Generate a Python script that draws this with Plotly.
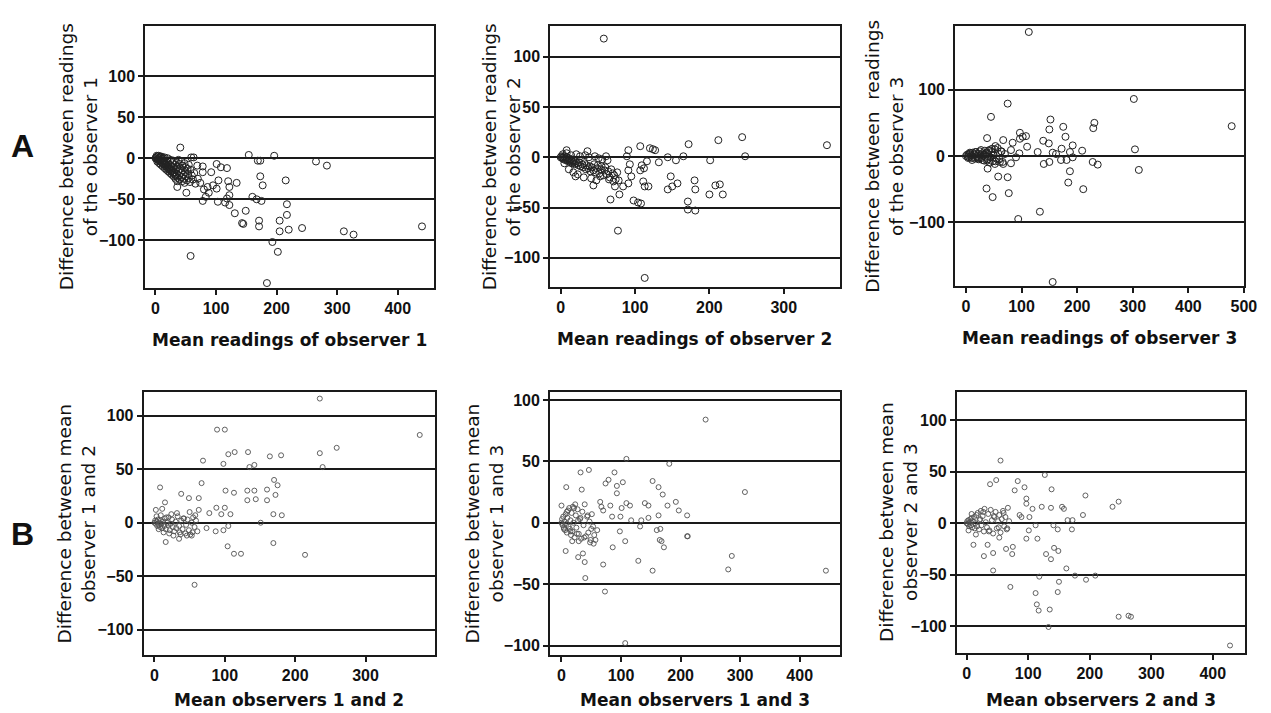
import plotly.graph_objects as go

# ---------------- Row A: each observer, repeated readings ----------------
a1_mean = [41, 59, 63, 154, 169, 173, 196, 265, 283, 101, 108, 118, 69, 78, 92, 78, 104, 120, 134, 122,
           101, 86, 51, 36, 173, 177, 215, 78, 103, 115, 122, 122, 118, 83, 160, 167, 175, 217, 131, 149,
           143, 145, 171, 171, 205, 217, 205, 220, 242, 311, 327, 440, 193, 202, 58, 184,
           0, 1, 2, 3, 4, 5, 6, 7, 8, 9, 10, 11, 12, 13, 14, 15, 16, 17, 18, 19, 20, 21, 22, 23, 24, 25,
           26, 27, 28, 29, 30, 31, 32, 33, 34, 35, 36, 37, 38, 39, 40, 41, 42, 43, 44, 45, 46, 47, 48, 49,
           50, 52, 54, 55, 57, 58, 60, 62, 64, 66, 3, 6, 9, 12, 15, 18, 21, 24, 27, 30, 33, 36, 5, 10, 15,
           20, 25, 30, 35, 40, 45, 50, 55, 2, 8, 13, 28, 32, 38, 43, 48, 53, 70, 74, 80, 88, 95]
a1_diff = [13, 1, 1, 4, -3, -3, 3, -4, -9, -7, -11, -12, -9, -10, -17, -17, -27, -28, -30, -35,
           -37, -35, -42, -35, -22, -33, -27, -52, -53, -54, -57, -45, -49, -47, -47, -50, -52, -56, -67, -64,
           -79, -80, -76, -83, -76, -69, -89, -87, -85, -89, -93, -83, -102, -114, -119, -152,
           0, 1, -1, 2, -2, 0, -3, 1, -4, -2, -5, -1, -6, -3, -8, -4, -7, -10, -5, -9, -12, -6, -11, -14, -8, -13,
           -16, -10, -15, -18, -12, -17, -20, -14, -22, -19, -11, -24, -16, -21, -26, -13, -18, -23, -28, -15, -20, -25, -30, -17,
           -22, -27, -19, -24, -29, -14, -21, -26, -18, -31, -4, -6, -8, -10, -12, -14, -16, -18, -20, -22, -25, -28, 3, 2, 1,
           0, -2, -3, -5, -7, -9, -11, -8, 3, 2, 0, -6, -8, -2, -4, -6, -13, -25, -30, -38, -42, -33]

a2_mean = [58, 358, 244, 248, 212, 201, 172, 165, 144, 155, 132, 107, 120, 124, 127, 91, 89, 61, 93, 109,
           112, 116, 107, 91, 95, 91, 84, 73, 71, 78, 79, 67, 111, 113, 118, 148, 144, 150, 157, 180,
           181, 171, 171, 181, 208, 214, 200, 218, 98, 104, 108, 77, 113, 44, 20, 8, 36,
           0, 1, 2, 3, 4, 5, 6, 7, 8, 9, 10, 11, 12, 13, 14, 15, 16, 17, 18, 19, 20, 22, 24, 25, 27, 29,
           30, 32, 34, 35, 37, 39, 40, 42, 44, 45, 47, 49, 50, 52, 54, 55, 57, 59, 60, 62, 64, 66, 68, 70,
           72, 74, 76, 3, 8, 14, 21, 26, 33, 38, 46, 51, 56, 63, 5, 11, 17, 23, 31, 41, 48, 53, 65]
a2_diff = [118, 12, 20, 1, 17, -3, 13, 1, 0, -3, -5, 11, 9, 8, 7, 7, 1, 1, -7, -8,
           -11, -4, -13, -13, -19, -26, -29, -29, -24, -23, -37, -42, -24, -29, -29, -19, -32, -29, -26, -23,
           -32, -44, -52, -53, -28, -27, -37, -37, -43, -45, -46, -73, -120, -28, -19, 7, 6,
           0, 1, -1, 0, -2, 1, -1, -3, 0, -2, -4, -1, -3, -5, -2, -4, -6, -3, -5, -7, -4, -6, -8, -5, -9, -7,
           -10, -6, -12, -8, -11, -9, -14, -10, -13, -7, -15, -11, -8, -16, -12, -9, -18, -13, -10, -17, -14, -20, -12, -16,
           -18, -22, -15, 3, 4, 2, 3, 1, 2, 0, 1, -1, -2, -3, -6, -12, -15, -17, -20, -21, -23, -19, -22]

a3_mean = [113, 302, 478, 75, 45, 152, 150, 175, 231, 229, 179, 97, 102, 108, 97, 38, 67, 139, 149, 192,
           172, 110, 84, 304, 209, 129, 156, 162, 187, 192, 171, 181, 140, 150, 228, 237, 311, 187, 184, 211,
           39, 58, 75, 37, 48, 77, 133, 94, 156, 53, 81, 81, 67, 52, 90, 96,
           0, 2, 3, 5, 6, 8, 9, 10, 12, 13, 15, 16, 18, 19, 20, 22, 23, 25, 26, 28, 29, 30, 32, 34, 35,
           37, 38, 40, 42, 44, 46, 48, 50, 52, 55, 58, 61, 64, 4, 7, 11, 14, 17, 21, 24, 27, 31, 33, 36,
           39, 41, 43, 47, 49, 53, 57, 60, 63, 66, 70]
a3_diff = [187, 86, 45, 79, 59, 55, 40, 44, 50, 42, 29, 35, 29, 30, 26, 27, 24, 23, 19, 16,
           11, 14, 20, 10, 8, 6, 5, 3, 6, -2, -6, -6, -12, -9, -9, -13, -21, -23, -40, -50,
           -19, -31, -32, -49, -62, -56, -84, -95, -190, 15, 9, -11, -12, -12, -2, 4,
           0, 2, -1, 3, -2, 4, 1, -3, 5, -1, 2, -4, 6, 0, -2, 3, -5, 7, 1, -3, 4, -6, 2, 8, -1,
           5, -7, 3, 9, -2, 6, -8, 1, 10, -4, 4, -9, 7, -3, 5, -6, 3, 6, -4, -3, 9, 1, -7, 4, -5, 8,
           -10, 11, 2, -8, 12, -5, 7, -9, 3, 6]

# ---------------- Row B: pairs of observers ----------------
b1_mean = [235, 377, 89, 100, 259, 235, 239, 180, 164, 133, 114, 105, 69, 98, 135, 142, 67, 8, 170, 175,
           101, 113, 132, 142, 160, 172, 38, 49, 63, 15, 11, 2, 132, 144, 160, 88, 100, 63, 169, 181,
           95, 108, 78, 151, 105, 98, 87, 74, 16, 35, 53, 104, 169, 113, 123, 214, 57,
           0, 1, 2, 3, 4, 5, 6, 7, 8, 9, 10, 11, 12, 14, 15, 16, 18, 19, 20, 22, 23, 25, 26, 28,
           30, 31, 33, 35, 36, 38, 40, 42, 44, 45, 47, 49, 51, 53, 55, 57, 59, 61, 3, 6, 9, 13, 17,
           21, 24, 27, 32, 37, 41, 46, 50, 54, 58]
b1_diff = [116, 82, 87, 87, 70, 65, 52, 63, 62, 66, 66, 64, 58, 55, 52, 54, 37, 33, 40, 35,
           30, 28, 30, 30, 31, 26, 27, 23, 23, 19, 13, 12, 21, 22, 21, 14, 14, 12, 8, 7,
           8, 8, 9, 0, -3, -7, -8, -5, -18, -15, -12, -22, -19, -29, -29, -30, -58,
           0, 2, -1, 1, -3, 3, -2, 0, -4, 2, -1, -5, 1, -3, 4, -6, 0, -2, 5, -7, -1, 3, -4, -8,
           1, -5, 6, -3, -9, 2, -6, 4, -10, -2, 3, -7, -11, 0, 5, -4, 2, -8, 6, -6, 7, -9, 5,
           -10, 8, -12, 9, -11, 4, -12, 10, -9, 7]

b2_mean = [242, 109, 181, 308, 32, 46, 89, 74, 79, 103, 93, 153, 163, 8, 34, 93, 170, 65, 67, 70,
           82, 101, 109, 115, 140, 146, 178, 192, 197, 163, 211, 85, 99, 117, 134, 146, 132, 160, 166, 165,
           168, 172, 211, 212, 98, 107, 86, 29, 48, 54, 57, 7, 28, 36, 39, 70, 129, 153, 286, 280,
           444, 40, 73, 107, 0, 60,
           0, 1, 2, 3, 4, 5, 6, 7, 8, 9, 10, 11, 12, 13, 14, 15, 16, 17, 18, 19, 20, 22, 24, 25,
           27, 29, 31, 33, 35, 37, 39, 41, 43, 45, 47, 49, 51, 53, 55, 4, 9, 15, 21, 26, 32, 38,
           44, 50, 18, 23, 28]
b2_diff = [84, 52, 48, 25, 41, 43, 41, 32, 35, 33, 30, 34, 29, 29, 27, 24, 23, 17, 13, 10,
           14, 12, 16, 14, 16, 14, 14, 17, 10, 6, 6, 5, 5, 2, 2, 4, -3, -6, -5, -14,
           -15, -20, -11, -11, -7, -15, -20, -15, -16, -17, -14, -23, -28, -25, -32, -34, -31, -39, -27, -38,
           -39, -45, -56, -98, 14, -6,
           0, 3, -2, 5, -4, 1, -6, 7, -1, -8, 4, 10, -3, 12, -5, 2, -10, 8, -7, 13, 0, -12, 6, -4,
           11, -9, 3, -13, 9, -2, 15, -11, 5, -8, 1, -14, 7, -3, -10, -5, 9, -7, 12, -9, 4, -12,
           6, -5, -15, 15, 2]

b3_mean = [55, 127, 38, 48, 83, 78, 94, 138, 193, 97, 97, 107, 122, 137, 155, 158, 237, 247, 189, 86,
           89, 102, 164, 172, 112, 141, 148, 171, 101, 97, 115, 53, 11, 34, 28, 43, 64, 75, 74, 129,
           137, 142, 149, 43, 118, 162, 176, 194, 209, 150, 148, 71, 112, 114, 117, 135, 133, 247, 263, 267,
           428,
           0, 1, 2, 3, 4, 5, 6, 7, 8, 9, 10, 12, 13, 14, 16, 17, 18, 20, 21, 23, 24, 26, 28, 29,
           31, 33, 35, 37, 39, 41, 43, 45, 47, 49, 51, 53, 55, 57, 59, 61, 63, 65, 67, 69, 3, 8,
           15, 22, 27, 36, 44, 52, 60, 66]
b3_diff = [61, 47, 38, 42, 41, 32, 35, 33, 27, 24, 19, 14, 16, 15, 16, 14, 16, 21, 8, 8,
           6, 6, 3, 3, -2, -2, -6, -6, -7, -15, -15, -14, -21, -21, -32, -29, -25, -23, -30, -30,
           -35, -24, -27, -46, -52, -44, -51, -55, -51, -57, -67, -62, -68, -79, -85, -84, -101, -91, -90, -91,
           -119,
           0, 2, -1, 3, -3, 1, 4, -2, 5, -4, 2, 6, -5, 0, 8, -3, 10, -6, 3, 12, -2, 7, -8, 14,
           1, -4, 9, -7, 13, 3, -10, 6, 11, -5, 2, 8, -9, 4, 12, -3, 6, -6, 15, 2, -7, 9,
           -11, 4, 11, -8, 7, -4, 10, -5]

panels = [
    dict(x=a1_mean, y=a1_diff, dom_x=(0.1154, 0.3446), dom_y=(0.5961, 0.9635),
         xr=(-17, 459), yr=(-158, 161), xt=[0, 100, 200, 300, 400], yt=[-100, -50, 0, 50, 100],
         xtitle="Mean readings of observer 1", ytitle="Difference between readings<br>of the observer 1",
         ytx=79, big=True, xtoff=52),
    dict(x=a2_mean, y=a2_diff, dom_x=(0.4374, 0.6674), dom_y=(0.5975, 0.9635),
         xr=(-14, 375), yr=(-129, 130.5), xt=[0, 100, 200, 300], yt=[-100, -50, 0, 50, 100],
         xtitle="Mean readings of observer 2", ytitle="Difference between readings<br>of the observer 2",
         ytx=507, big=True, xtoff=52),
    dict(x=a3_mean, y=a3_diff, dom_x=(0.7592, 0.9888), dom_y=(0.5989, 0.9635),
         xr=(-19.6, 500), yr=(-196, 196), xt=[0, 100, 200, 300, 400, 500], yt=[-100, 0, 100],
         xtitle="Mean readings of observer 3", ytitle="Difference between  readings<br>of the observer 3",
         ytx=893, big=True, xtoff=52),
    dict(x=b1_mean, y=b1_diff, dom_x=(0.1141, 0.3454), dom_y=(0.0813, 0.4506),
         xr=(-15.5, 398), yr=(-123.6, 122.4), xt=[0, 100, 200, 300], yt=[-100, -50, 0, 50, 100],
         xtitle="Mean observers 1 and 2", ytitle="Difference between mean<br>observer 1 and 2",
         ytx=77, big=False, xtoff=45),
    dict(x=b2_mean, y=b2_diff, dom_x=(0.4372, 0.6674), dom_y=(0.0813, 0.4506),
         xr=(-19.3, 467), yr=(-107.7, 106.7), xt=[0, 100, 200, 300, 400], yt=[-100, -50, 0, 50, 100],
         xtitle="Mean observers 1 and 3", ytitle="Difference between mean<br>observer 1 and 3",
         ytx=489, big=False, xtoff=45),
    dict(x=b3_mean, y=b3_diff, dom_x=(0.7606, 0.9895), dom_y=(0.0846, 0.4506),
         xr=(-16, 452), yr=(-126, 128), xt=[0, 100, 200, 300, 400], yt=[-100, -50, 0, 50, 100],
         xtitle="Mean observers 2 and 3", ytitle="Difference between mean<br>observer 2 and 3",
         ytx=907, big=False, xtoff=47),
]

W, H = 1271, 713
TICK_FONT = "Liberation Sans, Arial, sans-serif"
TITLE_FONT = "DejaVu Sans, sans-serif"


def bold_labels(vals):
    return ["<b>%s</b>" % (str(v).replace("-", "\u2212")) for v in vals]


fig = go.Figure()
annotations = []
for i, p in enumerate(panels, start=1):
    xa = "x" if i == 1 else f"x{i}"
    ya = "y" if i == 1 else f"y{i}"
    fig.add_trace(go.Scatter(
        x=p["x"], y=p["y"], mode="markers", xaxis=xa, yaxis=ya, showlegend=False,
        marker=dict(symbol="circle-open", size=7 if p["big"] else 5,
                    color="#222" if p["big"] else "#505050",
                    line=dict(width=1 if p["big"] else 0.9)),
    ))
    axis_common = dict(showline=True, mirror=True, linecolor="#1a1a1a", linewidth=1.8,
                       ticks="outside", ticklen=5, tickwidth=1.5, tickcolor="#1a1a1a",
                       tickfont=dict(family=TICK_FONT, size=16, color="#111", weight="bold"),
                       zeroline=False)
    fig.layout[f"xaxis{'' if i == 1 else i}"] = dict(
        domain=list(p["dom_x"]), range=list(p["xr"]), tickvals=p["xt"],
        ticktext=bold_labels(p["xt"]), showgrid=False, anchor=ya, **axis_common)
    fig.layout[f"yaxis{'' if i == 1 else i}"] = dict(
        domain=list(p["dom_y"]), range=list(p["yr"]), tickvals=p["yt"],
        ticktext=bold_labels(p["yt"]), showgrid=True,
        gridcolor="#1a1a1a", gridwidth=1.5, anchor=xa, **axis_common)

    # axis titles
    xc = (p["dom_x"][0] + p["dom_x"][1]) / 2
    yc = (p["dom_y"][0] + p["dom_y"][1]) / 2
    annotations.append(dict(
        text="<b>%s</b>" % p["xtitle"], xref="paper", yref="paper", x=xc,
        y=p["dom_y"][0] - p["xtoff"] / H,
        xanchor="center", yanchor="middle", showarrow=False,
        font=dict(family=TITLE_FONT, size=17, color="#111")))
    annotations.append(dict(
        text=p["ytitle"], xref="paper", yref="paper", x=p["ytx"] / W, y=yc,
        xanchor="center", yanchor="middle", showarrow=False, textangle=-90,
        font=dict(family=TITLE_FONT, size=18.5, color="#111")))

# row letters
for letter, ypx in (("A", 146), ("B", 534)):
    annotations.append(dict(text="<b>%s</b>" % letter, xref="paper", yref="paper",
                            x=23 / W, y=1 - ypx / H, xanchor="center", yanchor="middle",
                            showarrow=False,
                            font=dict(family=TICK_FONT, size=32, color="#111")))

fig.update_layout(width=W, height=H, margin=dict(l=0, r=0, t=0, b=0),
                  paper_bgcolor="white", plot_bgcolor="white",
                  annotations=annotations)

fig.write_html("out.html")
